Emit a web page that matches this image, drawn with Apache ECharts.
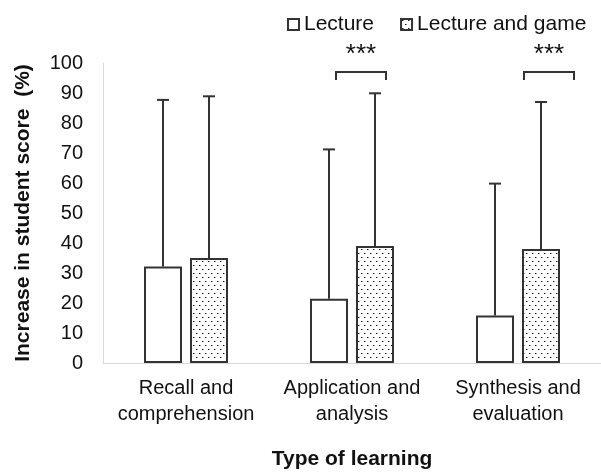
<!DOCTYPE html>
<html>
<head>
<meta charset="utf-8">
<script src="https://cdn.jsdelivr.net/npm/echarts@6/dist/echarts.min.js"></script>
<style>
  html, body { margin: 0; padding: 0; background: #fff; }
  #main { width: 601px; height: 475px; }
</style>
</head>
<body>
<div id="main"></div>
<script>
// data
var categories = ['Recall and\ncomprehension', 'Application and\nanalysis', 'Synthesis and\nevaluation'];
var seriesNames = ['Lecture', 'Lecture and game'];
var lectureMean = [32.2, 21.4, 15.8];
var gameMean = [35.0, 39.0, 38.0];
var lectureUpper = [87.7, 71.2, 59.8];
var gameUpper = [88.9, 89.9, 87.0];
// significance markers: category index, height of the bracket
var sigCats = [1, 2];
var sigLevel = [97, 97];
var sigText = ['***', '***'];

// layout only (pixels)
var barW = 38;
var barShift = 23;
var bracketSpan = [[-16, 34], [6, 56]];

window.onload = function () {
    var myChart = echarts.init(document.getElementById('main'));
    var font = 'Liberation Sans';
    var ink = '#333';

    // dotted fill for the game bars
    var dots = document.createElement('canvas');
    dots.width = 6;
    dots.height = 8;
    var ctx = dots.getContext('2d');
    ctx.fillStyle = '#fff';
    ctx.fillRect(0, 0, 6, 8);
    ctx.fillStyle = '#111';
    ctx.fillRect(1, 1, 1, 1);
    ctx.fillRect(4, 5, 1, 1);
    ctx.fillStyle = '#999';
    ctx.fillRect(2, 1, 1, 1);
    ctx.fillRect(5, 5, 1, 1);

    function errorBars(mean, upper, shift) {
        return {
            type: 'custom',
            silent: true,
            z: 3,
            data: mean.map(function (m, i) { return [i, m, upper[i]]; }),
            encode: { x: 0, y: 2 },
            renderItem: function (params, api) {
                var base = api.coord([api.value(0), api.value(1)]);
                var top = api.coord([api.value(0), api.value(2)]);
                var x = base[0] + shift;
                var st = { stroke: ink, lineWidth: 2 };
                return {
                    type: 'group',
                    children: [
                        { type: 'line', shape: { x1: x, y1: base[1], x2: x, y2: top[1] }, style: st },
                        { type: 'line', shape: { x1: x - 6, y1: top[1], x2: x + 6, y2: top[1] }, style: st }
                    ]
                };
            }
        };
    }

    var option = {
        animation: false,
        backgroundColor: '#fff',
        textStyle: { fontFamily: font },
        legend: {
            data: seriesNames,
            icon: 'rect',
            left: 282,
            top: 9,
            itemWidth: 11,
            itemHeight: 11,
            itemGap: 26,
            selectedMode: false,
            textStyle: { fontSize: 21, color: '#111', fontFamily: font }
        },
        grid: { left: 103, right: -4, top: 63, bottom: 109 },
        xAxis: {
            type: 'category',
            data: categories,
            name: 'Type of learning',
            nameLocation: 'middle',
            nameGap: 86,
            nameTextStyle: { fontSize: 21, fontWeight: 'bold', color: '#111', fontFamily: font },
            axisLine: { lineStyle: { color: '#d9d9d9', width: 1 } },
            axisTick: { show: false },
            axisLabel: { interval: 0, fontSize: 20, color: '#111', lineHeight: 26, margin: 12, fontFamily: font }
        },
        yAxis: {
            type: 'value',
            min: 0,
            max: 100,
            interval: 10,
            name: 'Increase in student score  (%)',
            nameLocation: 'middle',
            nameGap: 69,
            nameTextStyle: { fontSize: 21, fontWeight: 'bold', color: '#111', fontFamily: font },
            axisLine: { show: true, lineStyle: { color: '#d9d9d9', width: 1 } },
            axisTick: { show: false },
            splitLine: { show: false },
            axisLabel: { fontSize: 20, color: '#111', margin: 20, fontFamily: font }
        },
        series: [
            {
                name: seriesNames[0],
                type: 'bar',
                data: lectureMean,
                barWidth: barW,
                barGap: '21%',
                itemStyle: { color: '#fff', borderColor: ink, borderWidth: 2 }
            },
            {
                name: seriesNames[1],
                type: 'bar',
                data: gameMean,
                barWidth: barW,
                itemStyle: { color: { image: dots, repeat: 'repeat' }, borderColor: ink, borderWidth: 2 }
            },
            errorBars(lectureMean, lectureUpper, -barShift),
            errorBars(gameMean, gameUpper, barShift),
            {
                type: 'custom',
                silent: true,
                z: 3,
                data: sigCats.map(function (c, i) { return [c, sigLevel[i], i]; }),
                encode: { x: 0, y: 1 },
                renderItem: function (params, api) {
                    var p = api.coord([api.value(0), api.value(1)]);
                    var span = bracketSpan[api.value(2)];
                    var x1 = p[0] + span[0], x2 = p[0] + span[1], y = p[1];
                    return {
                        type: 'group',
                        children: [
                            {
                                type: 'polyline',
                                shape: { points: [[x1, y + 8], [x1, y], [x2, y], [x2, y + 8]] },
                                style: { stroke: ink, lineWidth: 2, fill: null }
                            },
                            {
                                type: 'text',
                                style: {
                                    x: (x1 + x2) / 2, y: y - 17,
                                    text: sigText[api.value(2)],
                                    fontSize: 26, fontFamily: font, fill: '#111',
                                    align: 'center', verticalAlign: 'middle'
                                }
                            }
                        ]
                    };
                }
            }
        ]
    };
    myChart.setOption(option);
};
</script>
</body>
</html>
